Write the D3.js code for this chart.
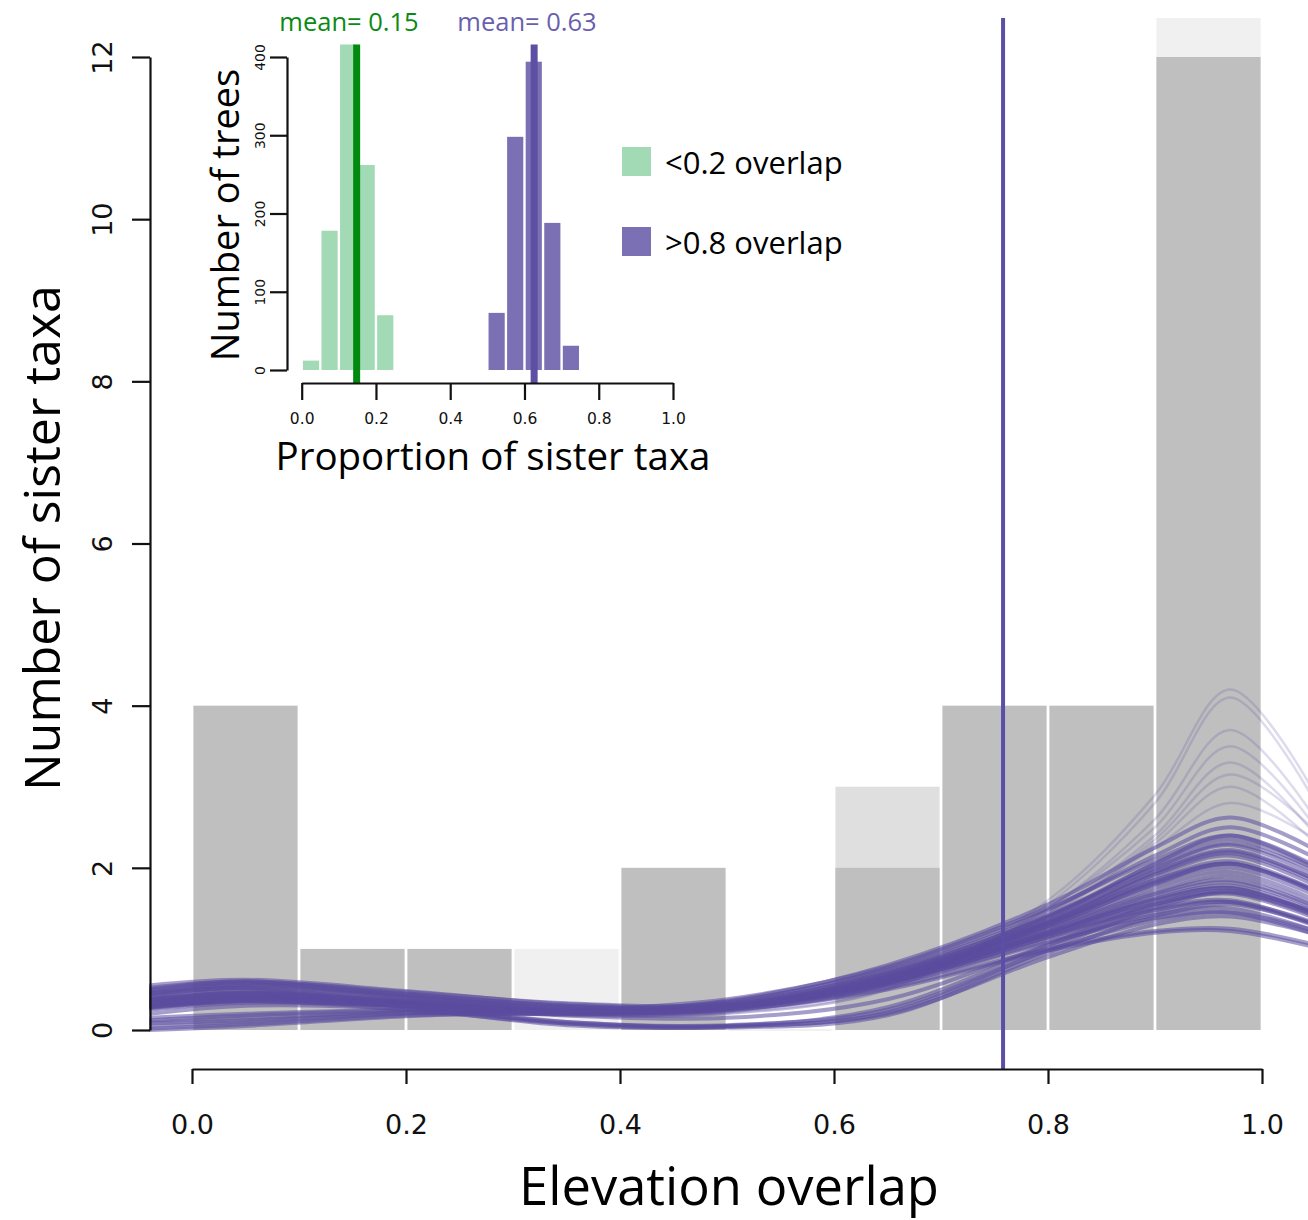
<html>
<head>
  <script src="https://d3js.org/d3.v7.min.js"></script>
  <title>Elevation overlap</title>
  <style>
    body { margin: 0; background: white; }
  </style>
</head>
<body>
  <div id="container"></div>
  <script>
    // main histogram (bins of 0.1)
    var binStarts = [0.0, 0.1, 0.2, 0.3, 0.4, 0.5, 0.6, 0.7, 0.8, 0.9];
    var darkCounts = [4, 1, 1, 0, 2, 0, 2, 4, 4, 12];
    var paleCounts = [0, 0, 0, 1, 0, 0, 0, 0, 0, 13];
    var midCounts = [0, 0, 0, 0, 0, 0, 3, 0, 0, 0];
    var observedLine = 0.758;
    var mainYTicks = [0, 2, 4, 6, 8, 10, 12];
    var mainXTicks = [0, 0.2, 0.4, 0.6, 0.8, 1.0];

    // density curves, sampled at these x positions
    var curveX = [-0.04, 0.05, 0.2, 0.35, 0.5, 0.65, 0.8, 0.9, 0.97, 1.05];
    var coreCurves = [
      [0.50,0.60,0.45,0.30,0.28,0.58,1.15,1.50,1.60,1.30],
      [0.55,0.62,0.48,0.32,0.30,0.60,1.20,1.60,1.75,1.42],
      [0.45,0.56,0.42,0.28,0.27,0.56,1.10,1.42,1.50,1.22],
      [0.48,0.58,0.44,0.30,0.30,0.62,1.25,1.70,1.90,1.55],
      [0.52,0.60,0.47,0.33,0.32,0.64,1.28,1.80,2.05,1.70],
      [0.42,0.53,0.40,0.26,0.26,0.55,1.08,1.38,1.45,1.18],
      [0.50,0.58,0.43,0.28,0.29,0.60,1.18,1.55,1.68,1.38],
      [0.46,0.55,0.41,0.27,0.28,0.58,1.14,1.48,1.58,1.28],
      [0.30,0.38,0.32,0.22,0.27,0.62,1.25,1.75,1.95,1.60],
      [0.35,0.44,0.35,0.24,0.29,0.66,1.32,1.90,2.15,1.78],
      [0.28,0.36,0.30,0.21,0.26,0.60,1.20,1.65,1.82,1.50],
      [0.38,0.46,0.36,0.24,0.28,0.64,1.30,1.85,2.08,1.72],
      [0.32,0.40,0.33,0.22,0.30,0.70,1.40,2.00,2.30,1.95],
      [0.25,0.34,0.30,0.20,0.26,0.58,1.15,1.55,1.70,1.40],
      [0.36,0.42,0.34,0.23,0.27,0.62,1.22,1.68,1.85,1.52],
      [0.33,0.41,0.33,0.22,0.28,0.66,1.35,1.95,2.22,1.85],
      [0.29,0.37,0.31,0.21,0.27,0.63,1.28,1.80,2.00,1.66],
      [0.40,0.48,0.37,0.24,0.28,0.60,1.18,1.60,1.75,1.44],
      [0.27,0.35,0.30,0.22,0.30,0.68,1.38,2.05,2.40,2.02],
      [0.34,0.43,0.34,0.23,0.29,0.65,1.30,1.82,2.05,1.70],
      [0.31,0.39,0.32,0.22,0.27,0.61,1.20,1.62,1.78,1.46],
      [0.37,0.45,0.35,0.23,0.28,0.64,1.33,1.92,2.18,1.82],
      [0.10,0.15,0.22,0.22,0.32,0.72,1.40,2.05,2.35,1.98],
      [0.05,0.10,0.20,0.21,0.34,0.76,1.48,2.15,2.50,2.12],
      [0.15,0.20,0.25,0.23,0.33,0.70,1.35,1.95,2.20,1.85],
      [0.02,0.07,0.18,0.22,0.36,0.80,1.55,2.25,2.62,2.22],
      [0.12,0.18,0.24,0.24,0.35,0.74,1.42,2.00,2.28,1.90],
      [0.08,0.12,0.21,0.20,0.30,0.68,1.32,1.85,2.05,1.72],
      [0.00,0.05,0.17,0.24,0.38,0.78,1.50,2.10,2.40,2.00],
      [0.35,0.45,0.30,0.08,0.03,0.18,0.95,1.40,1.55,1.30],
      [0.40,0.50,0.28,0.06,0.04,0.22,1.00,1.50,1.70,1.42],
      [0.20,0.30,0.26,0.10,0.05,0.28,1.05,1.55,1.72,1.45],
      [0.45,0.52,0.32,0.10,0.06,0.25,0.98,1.35,1.45,1.22],
      [0.28,0.36,0.25,0.08,0.05,0.20,0.90,1.30,1.40,1.18],
      [0.30,0.38,0.30,0.18,0.15,0.38,1.05,1.45,1.58,1.32],
      [0.38,0.46,0.36,0.22,0.24,0.52,1.00,1.22,1.25,1.05],
      [0.44,0.52,0.40,0.25,0.25,0.50,0.98,1.20,1.22,1.02]
    ];
    var outlierCurves = [
      [0.30,0.38,0.28,0.18,0.22,0.55,1.45,2.40,3.30,2.40],
      [0.25,0.32,0.28,0.18,0.20,0.50,1.50,2.60,3.70,2.60],
      [0.35,0.42,0.30,0.18,0.20,0.50,1.55,2.80,4.10,2.80],
      [0.28,0.36,0.29,0.19,0.22,0.55,1.50,2.50,3.50,2.50],
      [0.32,0.40,0.30,0.18,0.21,0.52,1.60,2.90,4.20,2.90],
      [0.30,0.38,0.30,0.19,0.23,0.56,1.40,2.30,3.00,2.30],
      [0.33,0.40,0.31,0.20,0.24,0.58,1.45,2.25,2.80,2.35],
      [0.27,0.35,0.29,0.19,0.23,0.57,1.42,2.35,3.15,2.45]
    ];

    // inset histograms (bins of 0.05)
    var lowBinStarts = [0.0, 0.05, 0.1, 0.15, 0.2];
    var lowCounts = [12, 178, 430, 262, 70];
    var highBinStarts = [0.5, 0.55, 0.6, 0.65, 0.7];
    var highCounts = [73, 298, 394, 188, 31];
    var lowMean = 0.148;
    var highMean = 0.626;
    var insetYTicks = [0, 100, 200, 300, 400];
    var insetXTicks = [0, 0.2, 0.4, 0.6, 0.8, 1.0];
    var legendLabels = ["<0.2 overlap", ">0.8 overlap"];

    var purple = "#5b4c9f";
    var svg = d3.select("#container")
      .append("svg")
      .attr("width", 1308)
      .attr("height", 1220);

    // ---------- main plot ----------
    var x = d3.scaleLinear().domain([0, 1]).range([192, 1262]);
    var y = d3.scaleLinear().domain([0, 12]).range([1030, 57]);
    var yTop = y(12.48);

    svg.append("clipPath").attr("id", "mainClip")
      .append("rect")
      .attr("x", x(-0.04)).attr("y", yTop)
      .attr("width", 1308 - x(-0.04)).attr("height", y(-0.48) - yTop);

    var bars = svg.append("g").attr("clip-path", "url(#mainClip)");

    // bars drawn slightly narrower than the bin so a white gap shows between them
    function drawBars(counts, fill) {
      bars.selectAll(null)
        .data(binStarts.filter(function(d, i){ return counts[i] > 0; }))
        .enter()
        .append("rect")
        .attr("x", function(d){ return x(d) + 1.4; })
        .attr("width", function(d){ return x(d + 0.1) - x(d) - 2.8; })
        .attr("y", function(d){ return y(counts[binStarts.indexOf(d)]); })
        .attr("height", function(d){ return y(0) - y(counts[binStarts.indexOf(d)]); })
        .attr("fill", fill);
    }
    drawBars(paleCounts, "#f0f0f0");
    drawBars(midCounts, "#dfdfdf");
    drawBars(darkCounts, "#bfbfbf");
    // empty bin line
    bars.append("line")
      .attr("x1", x(0.5) + 1.4).attr("x2", x(0.6) - 1.4)
      .attr("y1", y(0)).attr("y2", y(0))
      .style("stroke", "#eeeeee").style("stroke-width", 1.5);

    var line = d3.line()
      .x(function(d, i){ return x(curveX[i]); })
      .y(function(d){ return y(d); })
      .curve(d3.curveCatmullRom.alpha(0.5));

    svg.append("g").selectAll("path")
      .data(outlierCurves)
      .enter()
      .append("path")
      .attr("d", line)
      .attr("fill", "none")
      .attr("stroke", purple)
      .attr("stroke-opacity", 0.2)
      .attr("stroke-width", 2.5);

    svg.append("g").selectAll("path")
      .data(coreCurves)
      .enter()
      .append("path")
      .attr("d", line)
      .attr("fill", "none")
      .attr("stroke", purple)
      .attr("stroke-opacity", 0.55)
      .attr("stroke-width", 4);

    svg.append("line")
      .attr("x1", x(observedLine)).attr("x2", x(observedLine))
      .attr("y1", yTop).attr("y2", 1069)
      .style("stroke", "#5a4ea6")
      .style("stroke-width", 4);

    // axes
    var yAxis = svg.append("g")
      .attr("transform", "translate(150,0)")
      .call(d3.axisLeft(y).tickValues(mainYTicks).tickSize(18).tickSizeOuter(0));
    yAxis.selectAll("text")
      .attr("transform", "rotate(-90)")
      .attr("x", 0).attr("y", -38).attr("dy", 0)
      .style("text-anchor", "middle")
      .style("font-family", "DejaVu Sans")
      .style("font-size", "27px")
      .style("fill", "#111");

    var xAxis = svg.append("g")
      .attr("transform", "translate(0,1069)")
      .call(d3.axisBottom(x).tickValues(mainXTicks).tickFormat(d3.format(".1f"))
        .tickSize(15).tickSizeOuter(0).tickPadding(31));
    xAxis.selectAll("text")
      .style("font-family", "DejaVu Sans")
      .style("font-size", "27px")
      .style("fill", "#111");

    svg.selectAll(".domain, .tick line")
      .style("stroke", "#111")
      .style("stroke-width", 2.2);

    svg.append("text")
      .attr("transform", "translate(60,538) rotate(-90)")
      .attr("text-anchor", "middle")
      .style("font-family", "Open Sans")
      .style("font-size", "50px")
      .text("Number of sister taxa");

    svg.append("text")
      .attr("x", 729).attr("y", 1205)
      .attr("text-anchor", "middle")
      .style("font-family", "Open Sans")
      .style("font-size", "52.5px")
      .text("Elevation overlap");

    // ---------- inset ----------
    var ix = d3.scaleLinear().domain([0, 1]).range([301.7, 673]);
    var iy = d3.scaleLinear().domain([0, 400]).range([370, 57]);
    var iyTop = iy(416);

    svg.append("clipPath").attr("id", "insetClip")
      .append("rect")
      .attr("x", ix(-0.04)).attr("y", iyTop)
      .attr("width", ix(1.04) - ix(-0.04)).attr("height", iy(-16) - iyTop);
    var inset = svg.append("g");
    var insetBars = inset.append("g").attr("clip-path", "url(#insetClip)");

    insetBars.selectAll(null)
      .data(lowBinStarts)
      .enter()
      .append("rect")
      .attr("x", function(d){ return ix(d) + 1.2; })
      .attr("width", function(d){ return ix(d + 0.05) - ix(d) - 2.4; })
      .attr("y", function(d, i){ return iy(lowCounts[i]); })
      .attr("height", function(d, i){ return iy(0) - iy(lowCounts[i]); })
      .attr("fill", "#a3dab6");

    insetBars.selectAll(null)
      .data(highBinStarts)
      .enter()
      .append("rect")
      .attr("x", function(d){ return ix(d) + 1.2; })
      .attr("width", function(d){ return ix(d + 0.05) - ix(d) - 2.4; })
      .attr("y", function(d, i){ return iy(highCounts[i]); })
      .attr("height", function(d, i){ return iy(0) - iy(highCounts[i]); })
      .attr("fill", "#7c70b4");

    inset.append("line")
      .attr("x1", ix(lowMean)).attr("x2", ix(lowMean))
      .attr("y1", iyTop).attr("y2", 383)
      .style("stroke", "#008a0e").style("stroke-width", 7);
    inset.append("line")
      .attr("x1", ix(highMean)).attr("x2", ix(highMean))
      .attr("y1", iyTop).attr("y2", 383)
      .style("stroke", "#5d4fa2").style("stroke-width", 7);

    var iyAxis = inset.append("g")
      .attr("transform", "translate(287,0)")
      .call(d3.axisLeft(iy).tickValues(insetYTicks).tickSize(17).tickSizeOuter(0));
    iyAxis.selectAll("text")
      .attr("transform", "rotate(-90)")
      .attr("x", 0).attr("y", -22).attr("dy", 0)
      .style("text-anchor", "middle")
      .style("font-family", "DejaVu Sans")
      .style("font-size", "14px")
      .style("fill", "#111");

    var ixAxis = inset.append("g")
      .attr("transform", "translate(0,383)")
      .call(d3.axisBottom(ix).tickValues(insetXTicks).tickFormat(d3.format(".1f"))
        .tickSize(17).tickSizeOuter(0).tickPadding(13));
    ixAxis.selectAll("text")
      .style("font-family", "DejaVu Sans")
      .style("font-size", "15.5px")
      .style("fill", "#111");

    inset.selectAll(".domain, .tick line")
      .style("stroke", "#111")
      .style("stroke-width", 2.2);

    inset.append("text")
      .attr("transform", "translate(239,215) rotate(-90)")
      .attr("text-anchor", "middle")
      .style("font-family", "Open Sans")
      .style("font-size", "38px")
      .text("Number of trees");

    inset.append("text")
      .attr("x", 493).attr("y", 470)
      .attr("text-anchor", "middle")
      .style("font-family", "Open Sans")
      .style("font-size", "38.5px")
      .text("Proportion of sister taxa");

    inset.append("text")
      .attr("x", 349).attr("y", 31)
      .attr("text-anchor", "middle")
      .style("font-family", "Open Sans")
      .style("font-size", "25.5px")
      .style("fill", "#0a8a14")
      .text("mean= " + d3.format(".2f")(0.15));
    inset.append("text")
      .attr("x", 527).attr("y", 31)
      .attr("text-anchor", "middle")
      .style("font-family", "Open Sans")
      .style("font-size", "25.5px")
      .style("fill", "#6a5fae")
      .text("mean= " + d3.format(".2f")(0.63));

    // legend
    var legendColors = ["#a3dab6", "#7c70b4"];
    var legend = inset.selectAll(".legend")
      .data(legendLabels)
      .enter()
      .append("g")
      .attr("transform", function(d, i){ return "translate(622," + (147 + i * 80) + ")"; });
    legend.append("rect")
      .attr("width", 29).attr("height", 29)
      .attr("fill", function(d, i){ return legendColors[i]; });
    legend.append("text")
      .attr("x", 43).attr("y", 27)
      .style("font-family", "Open Sans")
      .style("font-size", "31px")
      .text(function(d){ return d; });
  </script>
</body>
</html>
